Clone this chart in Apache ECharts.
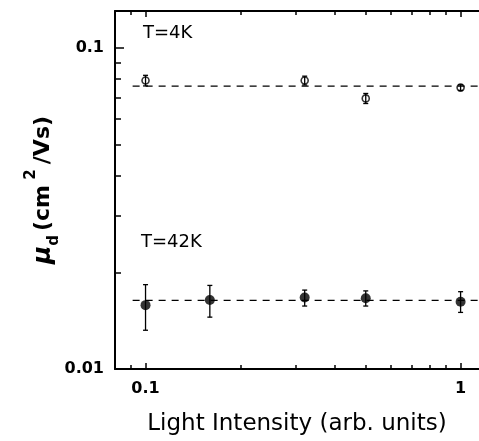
<!DOCTYPE html>
<html>
<head>
<meta charset="utf-8">
<script src="https://cdn.jsdelivr.net/npm/echarts@6/dist/echarts.min.js"></script>
<style>
  html, body { margin: 0; padding: 0; background: #fff; }
  #chart { width: 479px; height: 441px; }
</style>
</head>
<body>
<div id="chart"></div>
<script>
// Drift mobility vs. light intensity at two temperatures (log-log)
const xMajorTicks = [0.1, 1];
const xMinorTicks = [0.09, 0.2, 0.3, 0.4, 0.5, 0.6, 0.7, 0.8, 0.9];
const yMajorTicks = [0.01, 0.1];
const yMinorTicks = [0.02, 0.03, 0.04, 0.05, 0.06, 0.07, 0.08, 0.09];

// T = 4 K (open circles)
const x4K = [0.1, 0.32, 0.5, 1];
const mu4K = [0.079, 0.079, 0.0695, 0.0751];
const err4K = [0.003, 0.0025, 0.0025, 0.0015];
const fit4K = 0.0759;

// T = 42 K (filled circles)
const x42K = [0.1, 0.16, 0.32, 0.5, 1];
const mu42K = [0.0158, 0.0164, 0.0167, 0.0166, 0.0162];
const lo42K = [0.0132, 0.0145, 0.0157, 0.0157, 0.0150];
const hi42K = [0.0183, 0.0182, 0.0176, 0.0175, 0.0174];
const fit42K = 0.01635;

const xRange = [0.08, 1.144];
const yRange = [0.01, 0.13];
const fitSpan = [0.091, 1.2];

const FONT = 'DejaVu Sans';
const chart = echarts.init(document.getElementById('chart'), null, { renderer: 'canvas' });

const lbl = (list) => (v) => {
  for (const t of list) if (Math.abs(v - t) / t < 1e-6) return String(t);
  return '';
};

function xAxisDef(pos, ticks, len, showLine, showLabels) {
  return {
    type: 'log', logBase: 10, position: pos, min: xRange[0], max: xRange[1],
    gridIndex: 0,
    axisLine: { show: showLine, lineStyle: { color: '#000', width: 2 } },
    axisTick: { show: true, inside: true, length: len, customValues: ticks, lineStyle: { color: '#000', width: 1.5 } },
    axisLabel: showLabels ? {
      show: true, customValues: xMajorTicks, formatter: lbl(xMajorTicks),
      fontFamily: FONT, fontWeight: 'bold', fontSize: 16, color: '#000', margin: 12
    } : { show: false },
    splitLine: { show: false }, minorTick: { show: false }
  };
}
function yAxisDef(ticks, len, showLine, showLabels) {
  return {
    type: 'log', logBase: 10, position: 'left', min: yRange[0], max: yRange[1],
    gridIndex: 0,
    axisLine: { show: showLine, lineStyle: { color: '#000', width: 2 } },
    axisTick: { show: true, inside: true, length: len, customValues: ticks, lineStyle: { color: '#000', width: 1.5 } },
    axisLabel: showLabels ? {
      show: true, customValues: yMajorTicks, formatter: lbl(yMajorTicks),
      fontFamily: FONT, fontWeight: 'bold', fontSize: 16, color: '#000', margin: 11
    } : { show: false },
    splitLine: { show: false }, minorTick: { show: false }
  };
}

const xMain = xAxisDef('bottom', xMajorTicks, 6, true, true);
xMain.name = 'Light Intensity (arb. units)';
xMain.nameLocation = 'middle';
xMain.nameGap = 44;
xMain.nameMoveOverlap = false;
xMain.nameTextStyle = { fontFamily: FONT, fontSize: 23, color: '#000' };

const yMain = yAxisDef(yMajorTicks, 9, true, true);
yMain.name = '{mu|μ}{sub|d} {t|(cm}{sup| 2 }{t|/Vs)}';
yMain.nameLocation = 'middle';
yMain.nameRotate = 90;
yMain.nameGap = 53;
yMain.nameMoveOverlap = false;
yMain.nameTextStyle = {
  fontFamily: FONT, color: '#000',
  rich: {
    mu: { fontFamily: FONT, fontSize: 25, fontWeight: 'bold', fontStyle: 'italic', color: '#000', lineHeight: 38, verticalAlign: 'middle' },
    sub: { fontFamily: FONT, fontSize: 15, fontWeight: 'bold', color: '#000', lineHeight: 38, verticalAlign: 'bottom' },
    t: { fontFamily: FONT, fontSize: 22, fontWeight: 'bold', color: '#000', lineHeight: 38, verticalAlign: 'middle' },
    sup: { fontFamily: FONT, fontSize: 15, fontWeight: 'bold', color: '#000', lineHeight: 38, verticalAlign: 'top' }
  }
};

const errData4K = x4K.map((x, i) => [x, mu4K[i] - err4K[i], mu4K[i] + err4K[i]]);
const errData42K = x42K.map((x, i) => [x, lo42K[i], hi42K[i]]);

function renderErr(params, api) {
  const x = api.value(0);
  const pLo = api.coord([x, api.value(1)]);
  const pHi = api.coord([x, api.value(2)]);
  const cap = 2.5;
  const st = { stroke: '#000', lineWidth: 1.3 };
  return {
    type: 'group',
    children: [
      { type: 'line', shape: { x1: pLo[0], y1: pLo[1], x2: pHi[0], y2: pHi[1] }, style: st },
      { type: 'line', shape: { x1: pLo[0] - cap, y1: pLo[1], x2: pLo[0] + cap, y2: pLo[1] }, style: st },
      { type: 'line', shape: { x1: pHi[0] - cap, y1: pHi[1], x2: pHi[0] + cap, y2: pHi[1] }, style: st }
    ]
  };
}

const dash = { color: '#000', width: 1.2, type: [7, 6] };

chart.setOption({
  animation: false,
  backgroundColor: '#fff',
  grid: { left: 115, top: 11, bottom: 72, right: 0, containLabel: false },
  xAxis: [
    xMain,
    xAxisDef('bottom', xMinorTicks, 4, false, false),
    xAxisDef('top', xMajorTicks, 6, true, false),
    xAxisDef('top', xMinorTicks, 4, false, false)
  ],
  yAxis: [
    yMain,
    yAxisDef(yMinorTicks, 6, false, false)
  ],
  graphic: [
    { type: 'text', left: 143, top: 24, style: { text: 'T=4K', fontFamily: FONT, fontSize: 18, fill: '#000' } },
    { type: 'text', left: 141, top: 233, style: { text: 'T=42K', fontFamily: FONT, fontSize: 18, fill: '#000' } }
  ],
  series: [
    { type: 'line', data: fitSpan.map(x => [x, fit4K]), symbol: 'none', lineStyle: dash, silent: true },
    { type: 'line', data: fitSpan.map(x => [x, fit42K]), symbol: 'none', lineStyle: dash, silent: true },
    { type: 'custom', data: errData4K, renderItem: renderErr, encode: { x: 0, y: [1, 2] }, silent: true },
    { type: 'custom', data: errData42K, renderItem: renderErr, encode: { x: 0, y: [1, 2] }, silent: true },
    {
      type: 'scatter', data: x4K.map((x, i) => [x, mu4K[i]]), symbol: 'circle', symbolSize: 7,
      itemStyle: { color: 'rgba(0,0,0,0)', borderColor: '#000', borderWidth: 1.6 }, silent: true
    },
    {
      type: 'scatter', data: x42K.map((x, i) => [x, mu42K[i]]), symbol: 'circle', symbolSize: 10,
      itemStyle: { color: '#000' }, silent: true
    }
  ]
});
</script>
</body>
</html>
